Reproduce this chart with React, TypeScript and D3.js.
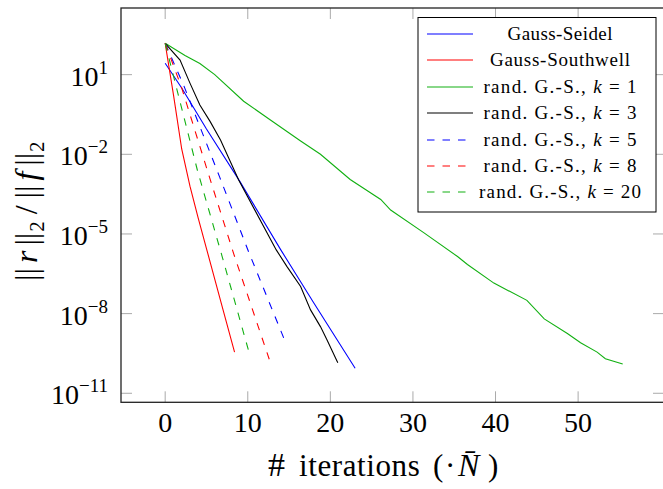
import * as d3 from "d3";

const W = 663;
const H = 489;

// x ticks (iterations · N̄) and y ticks (powers of ten)
const xTickValues = [0, 10, 20, 30, 40, 50];
const yTickExponents = [1, -2, -5, -8, -11];

// [iteration, log10(||r||/||f||)]
const gaussSeidel = [
  [0, 1.43], [2, 0.5], [5, -1.05], [9, -3.0], [14, -5.6], [18, -7.6], [23, -10.06],
];
const gaussSouthwell = [
  [0, 2.18], [1, 0.25], [2, -1.8], [3, -3.2], [4, -4.4], [5, -5.55], [6, -6.7], [7, -7.85], [8.4, -9.45],
];
const randK1 = [
  [0, 2.18], [2.4, 1.72], [4.2, 1.42], [6, 1.0], [9.5, 0.0], [12.7, -0.7], [16.4, -1.5], [18.8, -2.0],
  [22.4, -2.95], [26.1, -3.7], [27.3, -4.1], [31.3, -4.95], [35.4, -5.85], [36.6, -6.15], [39.8, -6.85],
  [43.8, -7.5], [45.9, -8.2], [48.7, -8.75], [50.3, -9.1], [52.3, -9.45], [53.3, -9.7], [55.4, -9.9],
];
const randK3 = [
  [0, 2.18], [1.8, 1.55], [3.0, 0.68], [4.2, -0.14], [5.45, -0.77], [6.7, -1.46], [8.9, -2.97],
  [13.45, -5.6], [14.75, -6.23], [16.4, -6.98], [17.6, -7.86], [18.8, -8.49], [19.6, -8.99], [20.9, -9.85],
];
const randK5 = [[0, 2.18], [2.3, 0.55], [6.6, -2.86], [10.1, -5.67], [14.7, -9.18]];
const randK8 = [[0, 2.18], [2, 0.5], [5.4, -2.9], [8.3, -5.75], [12.6, -9.72]];
const randK20 = [[0, 2.18], [3.9, -2.6], [6.9, -5.85], [10.3, -9.62]];

const GREEN = "#12b012";

const series = [
  { name: "Gauss-Seidel", k: null, data: gaussSeidel, color: "#0000ff", dashed: false },
  { name: "Gauss-Southwell", k: null, data: gaussSouthwell, color: "#ff0000", dashed: false },
  { name: "rand. G.-S., ", k: "1", data: randK1, color: GREEN, dashed: false },
  { name: "rand. G.-S., ", k: "3", data: randK3, color: "#000000", dashed: false },
  { name: "rand. G.-S., ", k: "5", data: randK5, color: "#0000ff", dashed: true },
  { name: "rand. G.-S., ", k: "8", data: randK8, color: "#ff0000", dashed: true },
  { name: "rand. G.-S., ", k: "20", data: randK20, color: GREEN, dashed: true },
];

// measured text widths of the legend entries in the reference
const legendTextWidths = [105, 140, 153, 153, 153, 153, 162];

const FONT = "'Liberation Serif', 'DejaVu Serif', serif";

export default function App() {
  const left = 121, right = 664, top = 8, bottom = 402.3;
  const x = d3.scaleLinear().domain([-5.35, 60.4]).range([left, right]);
  const y = d3.scaleLog().domain([10 ** -11.34, 10 ** 3.51]).range([bottom, top]);

  const line = d3
    .line<number[]>()
    .x((d) => x(d[0]))
    .y((d) => y(10 ** d[1]));

  const tickLen = 11;
  const lg = { x: 418, y: 17.5, w: 238, h: 194.5, row: 26.4 };

  return (
    <svg
      width={W}
      height={H}
      style={{ position: "absolute", left: 0, top: 0, background: "#fff" }}
      fontFamily={FONT}
    >
      <defs>
        <clipPath id="plot">
          <rect x={left} y={top} width={right - left} height={bottom - top} />
        </clipPath>
      </defs>

      {/* ticks */}
      {xTickValues.map((t) => (
        <g key={"x" + t} stroke="#aaa" strokeWidth={1}>
          <line x1={x(t)} x2={x(t)} y1={bottom} y2={bottom - tickLen} />
          <line x1={x(t)} x2={x(t)} y1={top} y2={top + tickLen} />
        </g>
      ))}
      {yTickExponents.map((e) => (
        <g key={"y" + e} stroke="#aaa" strokeWidth={1}>
          <line x1={left} x2={left + tickLen} y1={y(10 ** e)} y2={y(10 ** e)} />
          <line x1={right} x2={right - tickLen} y1={y(10 ** e)} y2={y(10 ** e)} />
        </g>
      ))}

      {/* series */}
      <g clipPath="url(#plot)" fill="none">
        {series.map((s, i) => (
          <path
            key={i}
            d={line(s.data) || ""}
            stroke={s.color}
            strokeWidth={1.1}
            strokeDasharray={s.dashed ? "7.5,8" : undefined}
          />
        ))}
      </g>

      {/* frame */}
      <rect
        x={left}
        y={top}
        width={right - left}
        height={bottom - top}
        fill="none"
        stroke="#222"
        strokeWidth={1.3}
      />

      {/* x tick labels */}
      {xTickValues.map((t) => (
        <text key={"xl" + t} x={x(t)} y={432} fontSize={28} textAnchor="middle">
          {t}
        </text>
      ))}
      {/* y tick labels */}
      {yTickExponents.map((e) => (
        <text key={"yl" + e} x={108} y={y(10 ** e) + 11} fontSize={28} textAnchor="end">
          10
          <tspan fontSize={19} dy={-12}>
            {e < 0 ? "\u2212" + -e : e}
          </tspan>
        </text>
      ))}

      {/* x axis title */}
      <text y={476} fontSize={31}>
        <tspan x={268} fontSize={34}>#</tspan>
        <tspan x={299} letterSpacing={0.6}>iterations</tspan>
        <tspan x={433}>(</tspan>
        <tspan x={445}>·</tspan>
        <tspan x={458} fontStyle="italic" fontSize={32}>{"N\u0304"}</tspan>
        <tspan x={488}>)</tspan>
      </text>

      {/* y axis title */}
      <text transform={`translate(37,${(top + bottom) / 2 + 6}) rotate(-90)`} fontSize={32} textAnchor="middle">
        <tspan>||</tspan>
        <tspan dx={5} fontStyle="italic">r</tspan>
        <tspan dx={5}>||</tspan>
        <tspan dx={1} fontSize={21} dy={7}>2</tspan>
        <tspan dx={7} dy={-7}>/</tspan>
        <tspan dx={7}>||</tspan>
        <tspan dx={5} fontStyle="italic">f</tspan>
        <tspan dx={6}>||</tspan>
        <tspan dx={1} fontSize={21} dy={7}>2</tspan>
      </text>

      {/* legend */}
      <rect x={lg.x} y={lg.y} width={lg.w} height={lg.h} fill="#fff" stroke="#000" strokeWidth={1} />
      {series.map((s, i) => {
        const cy = Math.round(lg.y + 16.5 + i * lg.row);
        return (
          <g key={"lg" + i}>
            <line
              x1={lg.x + 9}
              x2={lg.x + 55}
              y1={cy}
              y2={cy}
              stroke={s.color}
              strokeWidth={1.1}
              strokeDasharray={s.dashed ? "7.5,8" : undefined}
            />
            <text
              x={560}
              y={cy + 6}
              fontSize={19}
              textAnchor="middle"
              textLength={legendTextWidths[i]}
              lengthAdjust="spacing"
            >
              {s.name}
              {s.k && (
                <>
                  <tspan fontStyle="italic">k</tspan> = {s.k}
                </>
              )}
            </text>
          </g>
        );
      })}
    </svg>
  );
}
